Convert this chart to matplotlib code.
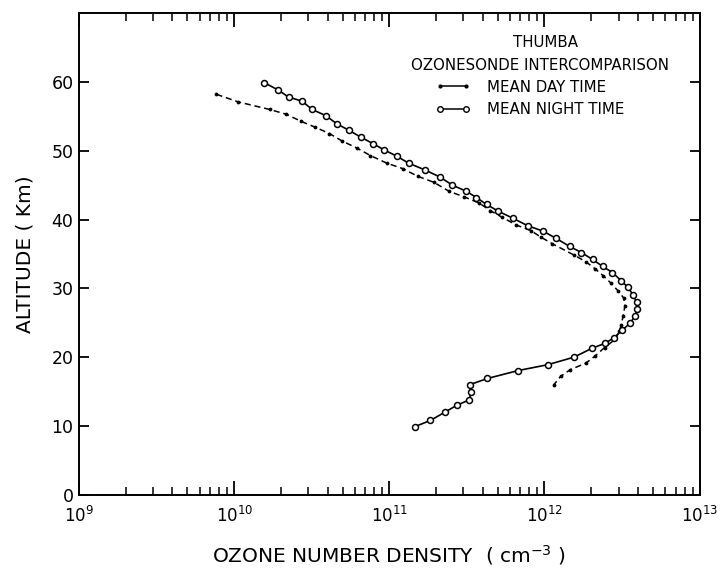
import matplotlib
matplotlib.use("Agg")
import matplotlib.pyplot as plt
from matplotlib.lines import Line2D
from matplotlib.ticker import LogLocator, NullFormatter

# ozone number density (cm^-3) vs altitude (km)
night_alt = [59.9, 58.8, 57.8, 57.2, 56.0, 55.1, 53.9, 53.0, 52.0, 51.0,
             50.1, 49.2, 48.2, 47.2, 46.2, 45.0, 44.1, 43.2, 42.2, 41.2,
             40.2, 39.1, 38.3, 37.3, 36.1, 35.2, 34.2, 33.2, 32.3, 31.1,
             30.2, 29.1, 28.0, 27.0, 26.0, 24.9, 23.9, 22.8, 22.0, 21.3,
             20.0, 18.9, 18.05, 16.9, 16.0, 14.9, 13.8, 13.0, 12.0, 10.8, 9.9]
night_dens = [1.56e10, 1.93e10, 2.24e10, 2.74e10, 3.18e10, 3.89e10, 4.60e10, 5.46e10, 6.52e10, 7.89e10,
              9.29e10, 1.12e11, 1.33e11, 1.70e11, 2.11e11, 2.55e11, 3.14e11, 3.64e11, 4.23e11, 5.05e11,
              6.24e11, 7.80e11, 9.82e11, 1.18e12, 1.45e12, 1.73e12, 2.04e12, 2.37e12, 2.74e12, 3.13e12,
              3.43e12, 3.72e12, 3.92e12, 3.95e12, 3.85e12, 3.55e12, 3.16e12, 2.80e12, 2.45e12, 2.03e12,
              1.55e12, 1.05e12, 6.76e11, 4.29e11, 3.30e11, 3.35e11, 3.28e11, 2.72e11, 2.28e11, 1.84e11, 1.46e11]

day_alt = [58.2, 57.1, 56.0, 55.3, 54.3, 53.4, 52.5, 51.4, 50.4, 49.3,
           48.2, 47.4, 46.3, 45.4, 44.1, 43.3, 42.4, 41.3, 40.3, 39.2,
           38.4, 37.4, 36.5, 34.8, 33.9, 32.8, 31.8, 30.8, 29.6, 28.6,
           27.4, 26.0, 24.7, 23.8, 22.6, 21.4, 20.2, 19.1, 18.2, 17.2, 16.0]
day_dens = [7.69e9, 1.06e10, 1.69e10, 2.17e10, 2.68e10, 3.34e10, 4.11e10, 4.97e10, 6.17e10, 7.55e10,
            9.62e10, 1.22e11, 1.52e11, 1.94e11, 2.43e11, 3.03e11, 3.79e11, 4.47e11, 5.36e11, 6.59e11,
            8.15e11, 9.55e11, 1.12e12, 1.56e12, 1.84e12, 2.13e12, 2.40e12, 2.67e12, 2.99e12, 3.24e12,
            3.30e12, 3.21e12, 3.13e12, 3.04e12, 2.86e12, 2.44e12, 2.13e12, 1.84e12, 1.47e12, 1.27e12, 1.15e12]

y_ticks = [0, 10, 20, 30, 40, 50, 60]

plt.rcParams['font.family'] = ['DejaVu Sans']

fig = plt.figure(figsize=(7.25, 5.7), dpi=100)
ax = fig.add_axes([0.109, 0.132, 0.856, 0.845])

# day: dash-dot look, small dots at every reading
ax.plot(day_dens, day_alt, color='black', lw=1.1, linestyle=(0, (4, 2.5)),
        marker='.', markersize=3.5)
# night: solid with open circles
ax.plot(night_dens, night_alt, color='black', lw=1.2, marker='o', markersize=4.3,
        markerfacecolor='white', markeredgewidth=1.1)

ax.set_xscale('log')
ax.set_xlim(1e9, 1e13)
ax.set_ylim(0, 70)
ax.set_yticks(y_ticks)
ax.xaxis.set_major_locator(LogLocator(base=10, numticks=10))
ax.xaxis.set_minor_locator(LogLocator(base=10, subs=range(2, 10), numticks=20))
ax.xaxis.set_minor_formatter(NullFormatter())

ax.tick_params(axis='x', which='major', direction='in', length=10, width=1.3,
               top=True, labelsize=12, pad=8)
ax.tick_params(axis='x', which='minor', direction='in', length=6, width=1.1, top=True)
ax.tick_params(axis='y', which='major', direction='in', length=7, width=1.3,
               right=True, labelsize=12.5, pad=4)
for s in ax.spines.values():
    s.set_linewidth(1.4)

ax.set_xlabel('OZONE NUMBER DENSITY  ( cm$^{-3}$ )', fontsize=14.5, labelpad=12)
ax.set_ylabel('ALTITUDE ( Km)', fontsize=14.5, labelpad=12)

ax.text(0.752, 0.938, 'THUMBA', transform=ax.transAxes, ha='center', va='center', fontsize=10.8)
ax.text(0.743, 0.892, 'OZONESONDE INTERCOMPARISON', transform=ax.transAxes,
        ha='center', va='center', fontsize=10.8)

handles = [Line2D([], [], color='black', lw=1.1, marker='.', markersize=4),
           Line2D([], [], color='black', lw=1.1, marker='o', markersize=4,
                  markerfacecolor='white')]
ax.legend(handles, ['MEAN DAY TIME', 'MEAN NIGHT TIME'], loc='upper left',
          bbox_to_anchor=(0.575, 0.862), frameon=False, numpoints=2, fontsize=10.8,
          handlelength=2.3, handletextpad=1.1, borderpad=0, borderaxespad=0,
          labelspacing=0.5)

fig.savefig('out.png', dpi=100)
